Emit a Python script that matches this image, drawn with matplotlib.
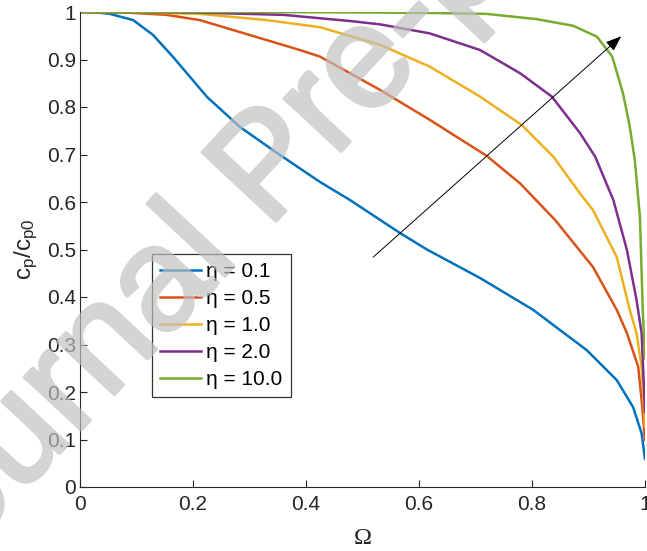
import matplotlib
matplotlib.use('Agg')
import matplotlib.pyplot as plt
import matplotlib.patheffects as pe

plt.rcParams['font.family'] = ['Liberation Sans', 'DejaVu Sans']
plt.rcParams['mathtext.fontset'] = 'custom'
plt.rcParams['mathtext.rm'] = 'Liberation Sans'
plt.rcParams['mathtext.it'] = 'Liberation Sans'

# curves: cp/cp0 against Omega
omega_01 = [0, 0.03, 0.053, 0.094, 0.129, 0.165, 0.195, 0.225, 0.283, 0.349, 0.425, 0.478,
            0.566, 0.614, 0.708, 0.802, 0.850, 0.897, 0.950, 0.979, 0.994, 1.0]
cp_01 = [1.0, 0.999, 0.996, 0.983, 0.952, 0.905, 0.863, 0.821, 0.758, 0.703, 0.642, 0.604,
         0.535, 0.500, 0.440, 0.373, 0.330, 0.288, 0.225, 0.168, 0.113, 0.059]

omega_05 = [0, 0.08, 0.153, 0.212, 0.271, 0.330, 0.389, 0.425, 0.531, 0.619, 0.720, 0.779,
            0.841, 0.908, 0.950, 0.968, 0.988, 0.994, 1.0]
cp_05 = [1.0, 0.999, 0.994, 0.983, 0.962, 0.941, 0.920, 0.906, 0.836, 0.773, 0.697, 0.639,
         0.562, 0.463, 0.373, 0.324, 0.253, 0.183, 0.099]

omega_10 = [0, 0.1, 0.212, 0.330, 0.425, 0.531, 0.619, 0.708, 0.782, 0.838, 0.885, 0.908,
            0.950, 0.973, 0.985, 0.994, 1.0]
cp_10 = [1.0, 0.999, 0.996, 0.983, 0.968, 0.931, 0.885, 0.822, 0.762, 0.695, 0.618, 0.583,
         0.484, 0.373, 0.324, 0.253, 0.127]

omega_20 = [0, 0.2, 0.360, 0.478, 0.531, 0.619, 0.708, 0.779, 0.835, 0.885, 0.912, 0.944,
            0.968, 0.985, 0.994, 1.0]
cp_20 = [1.0, 0.999, 0.994, 0.981, 0.974, 0.955, 0.920, 0.871, 0.822, 0.745, 0.695, 0.604,
         0.499, 0.394, 0.324, 0.158]

omega_100 = [0, 0.3, 0.5, 0.62, 0.72, 0.808, 0.873, 0.915, 0.942, 0.961, 0.973, 0.982,
             0.991, 0.996, 1.0]
cp_100 = [1.0, 1.0, 0.999, 0.998, 0.996, 0.985, 0.971, 0.948, 0.906, 0.829, 0.759, 0.688,
          0.569, 0.373, 0.271]

labels = ['η = 0.1', 'η = 0.5', 'η = 1.0', 'η = 2.0', 'η = 10.0']
colors = ['#0072BD', '#D95319', '#EDB120', '#7E2F8E', '#77AC30']

ticks = [0, 0.1, 0.2, 0.3, 0.4, 0.5, 0.6, 0.7, 0.8, 0.9, 1]
ytick_labels = ['0', '0.1', '0.2', '0.3', '0.4', '0.5', '0.6', '0.7', '0.8', '0.9', '1']
xticks = [0, 0.2, 0.4, 0.6, 0.8, 1]
xtick_labels = ['0', '0.2', '0.4', '0.6', '0.8', '1']

arrow_start = (0.519, 0.484)
arrow_end = (0.958, 0.949)

fig = plt.figure(figsize=(6.47, 5.51), dpi=100)
ax = fig.add_axes([80 / 647, 1 - 487 / 551, 565 / 647, 475 / 551])

curves = [(omega_01, cp_01), (omega_05, cp_05), (omega_10, cp_10),
          (omega_20, cp_20), (omega_100, cp_100)]
for (xs, ys), lab, c in zip(curves, labels, colors):
    ax.plot(xs, ys, color=c, lw=1.8, label=lab, solid_joinstyle='round')

ax.annotate('', xy=arrow_end, xytext=arrow_start,
            arrowprops=dict(arrowstyle='-|>,head_length=0.8,head_width=0.3',
                            lw=0.7, color='k', mutation_scale=12,
                            shrinkA=0, shrinkB=0))

ax.set_xlim(0, 1)
ax.set_ylim(0, 1)
ax.set_xticks(xticks)
ax.set_xticklabels(xtick_labels)
ax.set_yticks(ticks)
ax.set_yticklabels(ytick_labels)

dark = '#262626'
for s in ['top', 'right']:
    ax.spines[s].set_visible(False)
for s in ['left', 'bottom']:
    ax.spines[s].set_color(dark)
    ax.spines[s].set_linewidth(0.8)
ax.tick_params(direction='in', length=5, width=0.8, colors=dark, labelsize=15)
ax.tick_params(axis='x', pad=6)
ax.tick_params(axis='y', pad=3)

ax.set_ylabel(r'$\mathregular{c_p/c_{p0}}$', fontsize=17.5, color=dark, labelpad=5)
ax.set_xlabel('Ω', fontsize=17.5, family='Liberation Serif', color=dark, labelpad=10)

leg = ax.legend(loc='lower left', bbox_to_anchor=(0.127, 0.189), fontsize=15,
                frameon=True, fancybox=False, handlelength=1.95, handletextpad=0.25,
                labelspacing=0.38, borderpad=0.4, borderaxespad=0)
leg.get_frame().set_edgecolor('k')
leg.get_frame().set_linewidth(0.9)


def fade(img, dpi):
    # make the opaque watermark see-through in one go (no double alpha on the stroke)
    out = img.copy()
    out[..., 3] *= 0.68
    return out, 0, 0


# watermark on top of everything, slightly thickened
wm = fig.text(-86 / 647, 1 - 609 / 551, 'Journal Pre-proof', fontsize=105, rotation=47,
              rotation_mode='anchor', ha='left', va='baseline', color='#c0c0c0',
              family='Liberation Sans', zorder=10,
              path_effects=[pe.withStroke(linewidth=2.8, foreground='#c0c0c0')])
wm.set_agg_filter(fade)

fig.savefig('out.png', dpi=100)
